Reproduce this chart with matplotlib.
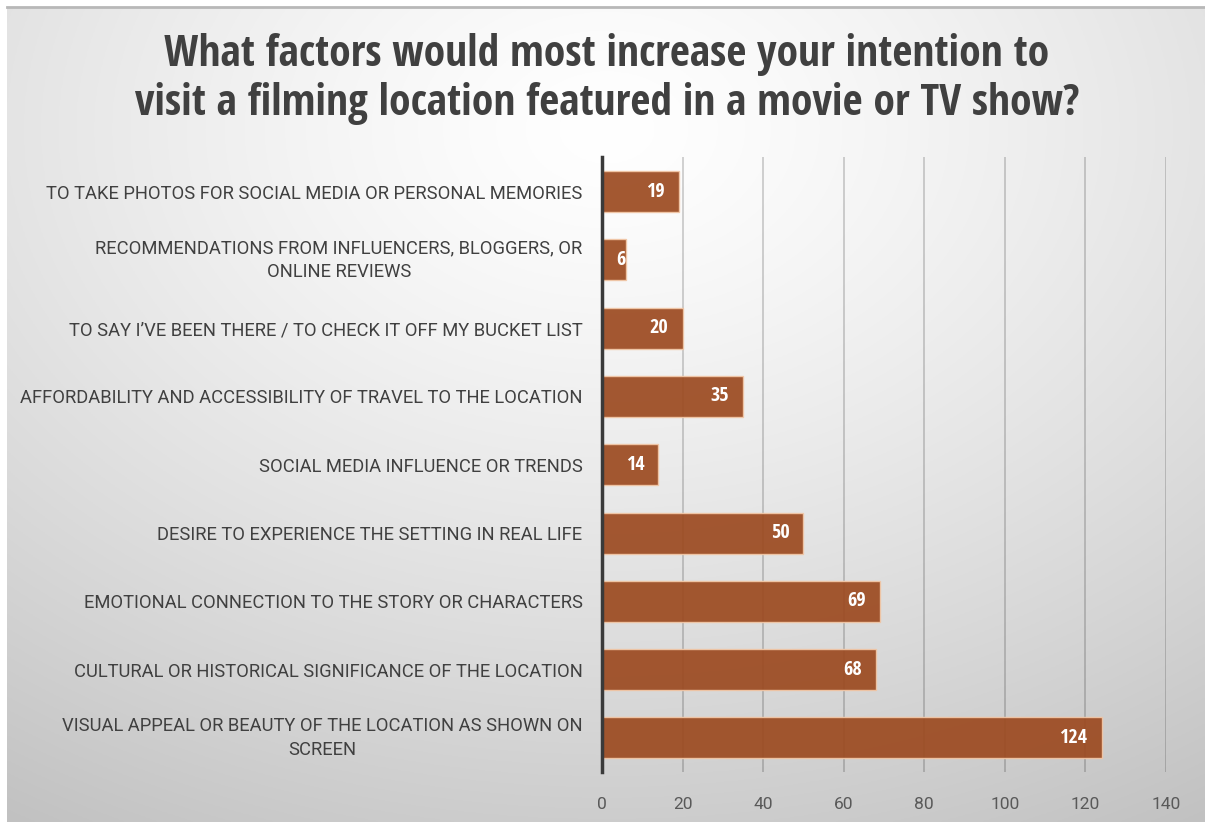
import numpy as np
import matplotlib
matplotlib.use("Agg")
import matplotlib.pyplot as plt
from matplotlib import font_manager
from matplotlib.transforms import ScaledTranslation

categories = [
    "TO TAKE PHOTOS FOR SOCIAL MEDIA OR PERSONAL MEMORIES",
    "RECOMMENDATIONS FROM INFLUENCERS, BLOGGERS, OR\nONLINE REVIEWS",
    "TO SAY I\u2019VE BEEN THERE / TO CHECK IT OFF MY BUCKET LIST",
    "AFFORDABILITY AND ACCESSIBILITY OF TRAVEL TO THE LOCATION",
    "SOCIAL MEDIA INFLUENCE OR TRENDS",
    "DESIRE TO EXPERIENCE THE SETTING IN REAL LIFE",
    "EMOTIONAL CONNECTION TO THE STORY OR CHARACTERS",
    "CULTURAL OR HISTORICAL SIGNIFICANCE OF THE LOCATION",
    "VISUAL APPEAL OR BEAUTY OF THE LOCATION AS SHOWN ON\nSCREEN",
]
values = [19, 6, 20, 35, 14, 50, 69, 68, 124]
xticks = [0, 20, 40, 60, 80, 100, 120, 140]
title = "What factors would most increase your intention to\nvisit a filming location featured in a movie or TV show?"

names = {f.name for f in font_manager.fontManager.ttflist}
narrow = "Open Sans Condensed" if "Open Sans Condensed" in names else "Roboto"
body = "Roboto" if "Roboto" in names else "DejaVu Sans"

W, H = 1205, 822
fig = plt.figure(figsize=(W / 100, H / 100), dpi=100)
fig.patch.set_facecolor("white")

# background radial gradient
bg = fig.add_axes([7 / W, 0, 1 - 7 / W, 1 - 7 / H])
bg.set_axis_off()
yy, xx = np.mgrid[0:400, 0:600]
cx, cy = 300, 60
r = np.sqrt(((xx - cx) / 600.0) ** 2 + ((yy - cy) / 420.0) ** 2)
g = 1.0 - 0.26 * np.clip(r, 0, 1.2) ** 1.3
img = np.dstack([g, g, g])
bg.imshow(img, aspect="auto", extent=[0, 1, 0, 1], origin="upper")
bg.plot([0, 1], [1, 1], color="#b8b8b8", lw=2, transform=bg.transAxes, clip_on=False)
bg.set_xlim(0, 1)
bg.set_ylim(0, 1)

x0, x1 = 602, 1166
ytop, ybot = 157.5, 772
ax = fig.add_axes([x0 / W, 1 - ybot / H, (x1 - x0) / W, (ybot - ytop) / H])
ax.set_facecolor("none")

n = len(categories)
ypos = np.arange(n)
ax.barh(ypos, values, height=0.6, color="#9c4a20", alpha=0.92,
        edgecolor="#f2c8a8", linewidth=1.0, zorder=3)
ax.set_ylim(n - 0.5, -0.5)
ax.set_xlim(0, 140)
ax.set_xticks(xticks)
ax.set_xticklabels([str(t) for t in xticks], fontsize=12.5, color="#595959", family=body)
ax.tick_params(axis="x", length=0, pad=18)
ax.set_yticks(ypos)
ax.set_yticklabels(categories, fontsize=13.2, color="#404040", family=body,
                   multialignment="center", linespacing=1.45)
ax.tick_params(axis="y", length=0, pad=14)
for lab in ax.get_yticklabels():
    if "\n" in lab.get_text():
        lab.set_transform(lab.get_transform() + ScaledTranslation(0, 5 / 100, fig.dpi_scale_trans))
ax.grid(axis="x", color="black", alpha=0.2, lw=1.2, zorder=0)
for s in ["top", "right", "bottom"]:
    ax.spines[s].set_visible(False)
ax.spines["left"].set_color("#3a3a3a")
ax.spines["left"].set_linewidth(2.5)
ax.spines["left"].set_zorder(5)

px_per_unit = (x1 - x0) / 140.0
for yv, v in zip(ypos, values):
    bar_px = v * px_per_unit
    off = -min(14, max(0, bar_px - 24))
    ax.annotate(str(v), (v, yv), xytext=(off * 0.72, 0), textcoords="offset points",
                ha="right", va="center", color="white", fontsize=14.5,
                fontweight="bold", family=narrow, zorder=6)

fig.text(607 / W, 1 - 79 / H, title, ha="center", va="center", fontsize=31.3,
         fontweight="bold", color="#404040", family=narrow, linespacing=1.2)

fig.savefig("out.png", dpi=100, facecolor="white")
